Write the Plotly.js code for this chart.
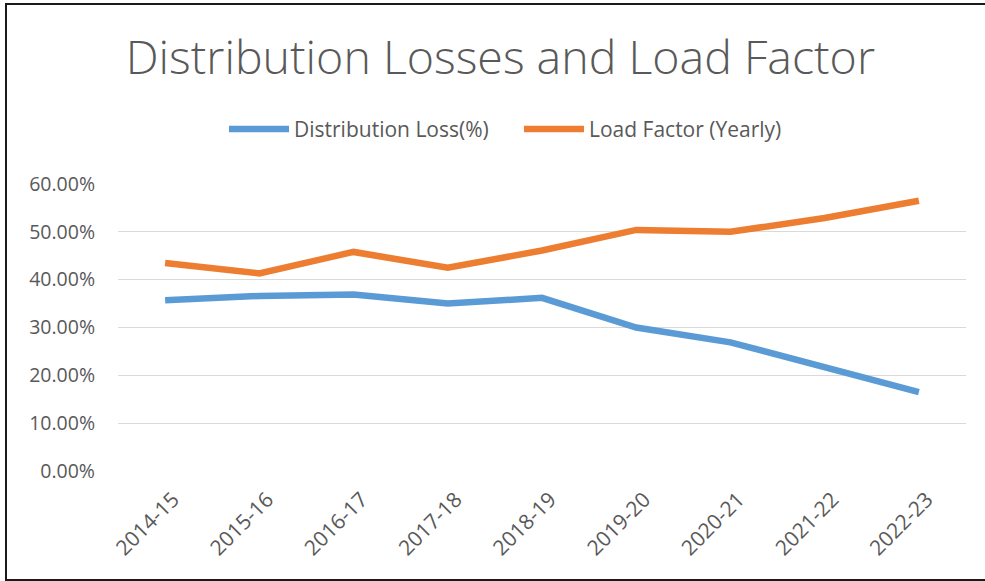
<!DOCTYPE html>
<html>
<head>
<meta charset="utf-8">
<script src="https://cdn.plot.ly/plotly-3.0.1.min.js"></script>
<style>
html,body{margin:0;padding:0;background:#fff;overflow:hidden;}
#wrap{position:relative;width:985px;height:581px;overflow:hidden;}
#chart{position:absolute;left:0;top:0;width:985px;height:581px;}
#frame{position:absolute;left:5px;top:3px;width:978px;height:574px;border-left:2px solid #1a1a1a;border-top:2px solid #1a1a1a;border-bottom:2px solid #1a1a1a;border-right:none;pointer-events:none;}
</style>
</head>
<body>
<div id="wrap"><div id="chart"></div><div id="frame"></div></div>
<script>
const years = ["2014-15","2015-16","2016-17","2017-18","2018-19","2019-20","2020-21","2021-22","2022-23"];
const distributionLoss = [0.357,0.366,0.369,0.350,0.362,0.300,0.269,0.218,0.165];
const loadFactor = [0.435,0.413,0.458,0.425,0.461,0.504,0.500,0.529,0.565];
const yTicks = [0,0.1,0.2,0.3,0.4,0.5,0.6];

const fontFam = "Open Sans, sans-serif";
const grey = "#595959";

const traces = [
  {x: years, y: distributionLoss, type: "scatter", mode: "lines", name: "Distribution Loss(%)",
   line: {color: "#5B9BD5", width: 6.5}},
  {x: years, y: loadFactor, type: "scatter", mode: "lines", name: "Load Factor (Yearly)",
   line: {color: "#ED7D31", width: 6.5}}
];

const layout = {
  width: 985, height: 581,
  margin: {l: 118, r: 19, t: 184, b: 110},
  paper_bgcolor: "#fff", plot_bgcolor: "#fff",
  title: {text: "Distribution Losses and Load Factor", x: 0.508, xanchor: "center", y: 0.9, yanchor: "middle",
          font: {family: fontFam, size: 46.5, color: grey, weight: 300}},
  showlegend: true,
  legend: {orientation: "h", x: 0.125, xanchor: "left", y: 1.19, yanchor: "middle",
           font: {family: fontFam, size: 21, color: grey}, itemwidth: 60, tracegroupgap: 0,
           entrywidth: 220, entrywidthmode: "pixels"},
  xaxis: {type: "category", tickangle: -45, showgrid: false, zeroline: false, showline: false,
          ticks: "", tickfont: {family: fontFam, size: 21, color: grey}, range: [-0.5, 8.5],
          ticklabelstandoff: 11, ticklabelshift: 8},
  yaxis: {range: [0, 0.6], tickvals: yTicks, tickformat: ".2%", showgrid: true, gridcolor: "#d9d9d9",
          gridwidth: 1.3, zeroline: false, showline: false, ticks: "", ticklen: 0,
          tickfont: {family: fontFam, size: 19.5, color: grey}, ticklabelstandoff: 22},
  hovermode: false
};

Plotly.newPlot("chart", traces, layout, {displayModeBar: false, staticPlot: true});
</script>
</body>
</html>
